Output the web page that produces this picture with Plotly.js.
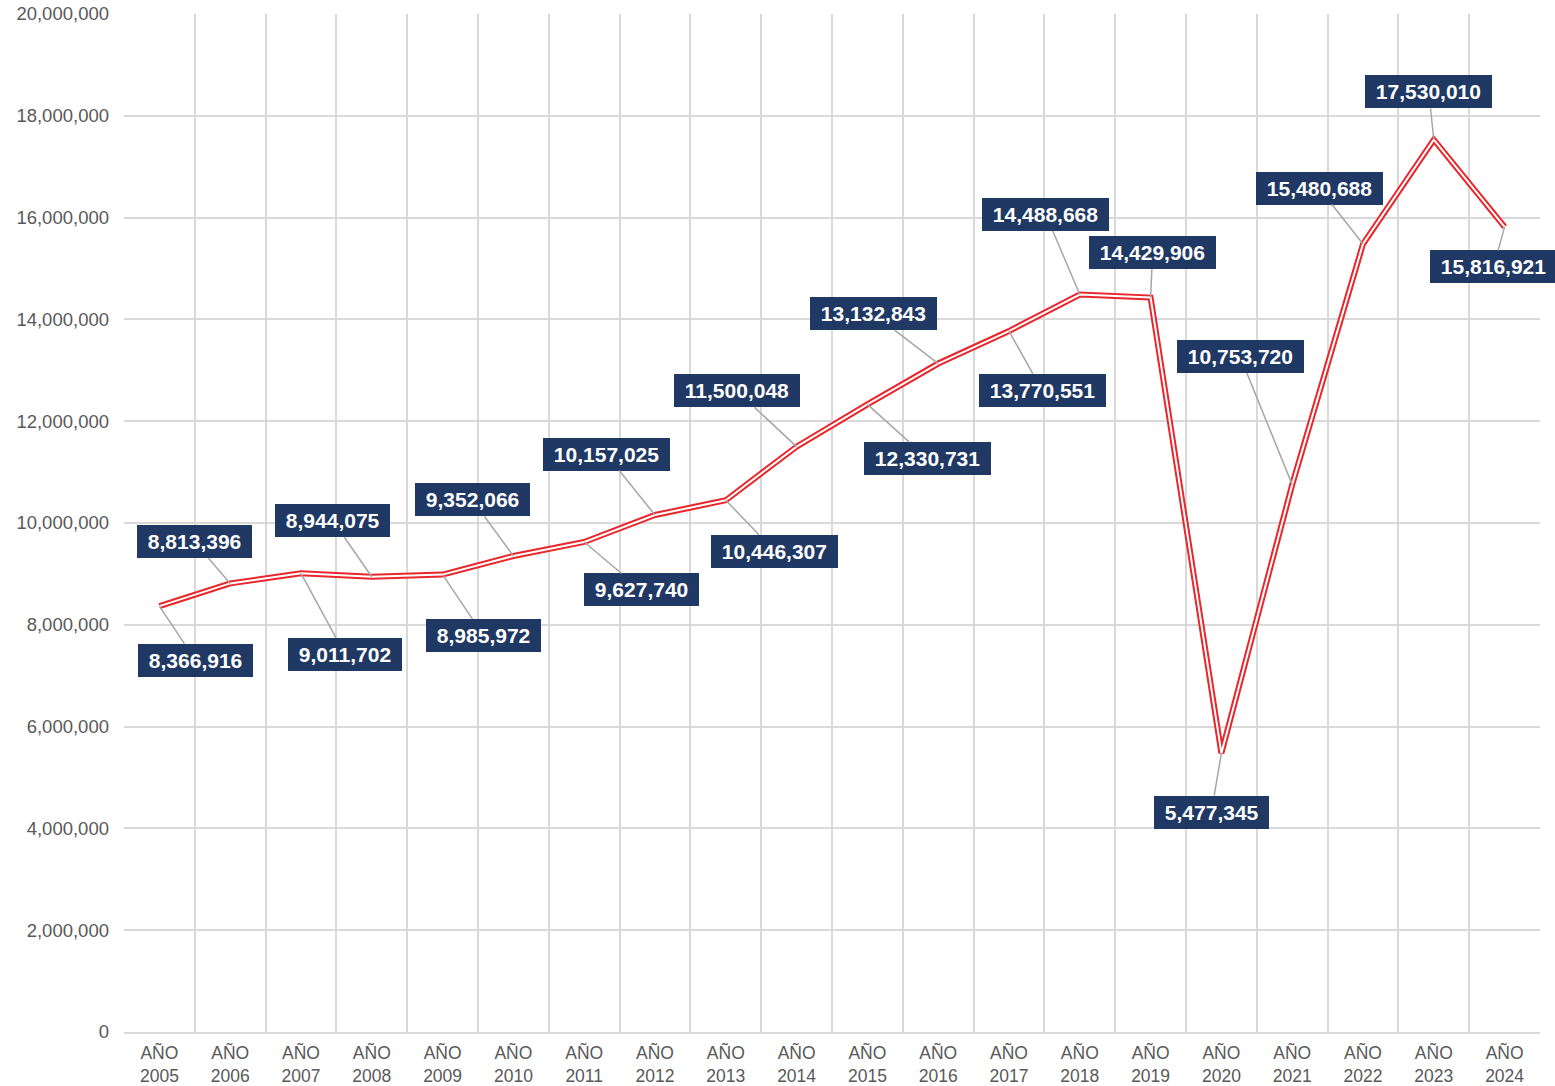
<!DOCTYPE html>
<html>
<head>
<meta charset="utf-8">
<script src="https://cdn.plot.ly/plotly-3.0.1.min.js"></script>
<style>html,body{margin:0;padding:0;background:#fff;}#chart{width:1555px;height:1086px;}</style>
</head>
<body>
<div id="chart"></div>
<script>
const years = ["2005","2006","2007","2008","2009","2010","2011","2012","2013","2014","2015","2016","2017","2018","2019","2020","2021","2022","2023","2024"];
const categories = years.map(y => "AÑO<br>" + y);
const values = [8366916, 8813396, 9011702, 8944075, 8985972, 9352066, 9627740, 10157025, 10446307, 11500048, 12330731, 13132843, 13770551, 14488668, 14429906, 5477345, 10753720, 15480688, 17530010, 15816921];
const yTicks = [0, 2000000, 4000000, 6000000, 8000000, 10000000, 12000000, 14000000, 16000000, 18000000, 20000000];
// label offsets (pixels) from each point to its label box
const labelDx = [36, -36, 44, -39, 41, -41, 57, -49, 49, -60, 60, -65, 33, -34, 2, -10, -52, -44, -5, -11];
const labelDy = [54, -42, 81, -56, 61, -56, 48, -61, 51, -56, 54, -50, 59, -80, -45, 59, -128, -56, -48, 40];

const annotations = categories.map((c, i) => ({
  x: c, y: values[i], xref: 'x', yref: 'y',
  text: '<b>\u00a0' + values[i].toLocaleString('en-US') + '\u00a0</b>',
  showarrow: true, arrowhead: 0, arrowwidth: 1.5, arrowcolor: '#a6a6a6',
  ax: labelDx[i], ay: labelDy[i], standoff: 0,
  bgcolor: '#1f3864', borderpad: 5, borderwidth: 0,
  font: {family: 'Liberation Sans, Arial, sans-serif', size: 21, color: '#ffffff'}
}));

const traces = [
  {x: categories, y: values, type: 'scatter', mode: 'lines', line: {color: '#e8262b', width: 6}, hoverinfo: 'skip'},
  {x: categories, y: values, type: 'scatter', mode: 'lines', line: {color: '#ffffff', width: 2}, hoverinfo: 'skip'}
];

const layout = {
  width: 1555, height: 1086,
  margin: {l: 124, r: 15, t: 14, b: 54},
  paper_bgcolor: '#ffffff', plot_bgcolor: '#ffffff',
  showlegend: false,
  font: {family: 'Liberation Sans, Arial, sans-serif', size: 18.5, color: '#595959'},
  xaxis: {
    type: 'category', tickson: 'boundaries', range: [-0.5, 19.5], showgrid: true, gridcolor: '#d9d9d9', gridwidth: 2,
    showline: true, linecolor: '#d9d9d9', linewidth: 2, mirror: false, ticks: '', tickfont: {size: 17.5, color: '#595959'},
    ticklabelstandoff: 4
  },
  yaxis: {
    range: [0, 20000000], tickvals: yTicks, tickformat: ',', showgrid: true, gridcolor: '#d9d9d9', gridwidth: 2,
    zeroline: false, showline: false, ticks: '', ticklabelstandoff: 14, tickfont: {size: 18.5, color: '#595959'}
  },
  annotations: annotations
};

Plotly.newPlot('chart', traces, layout, {displayModeBar: false, staticPlot: true});
</script>
</body>
</html>
